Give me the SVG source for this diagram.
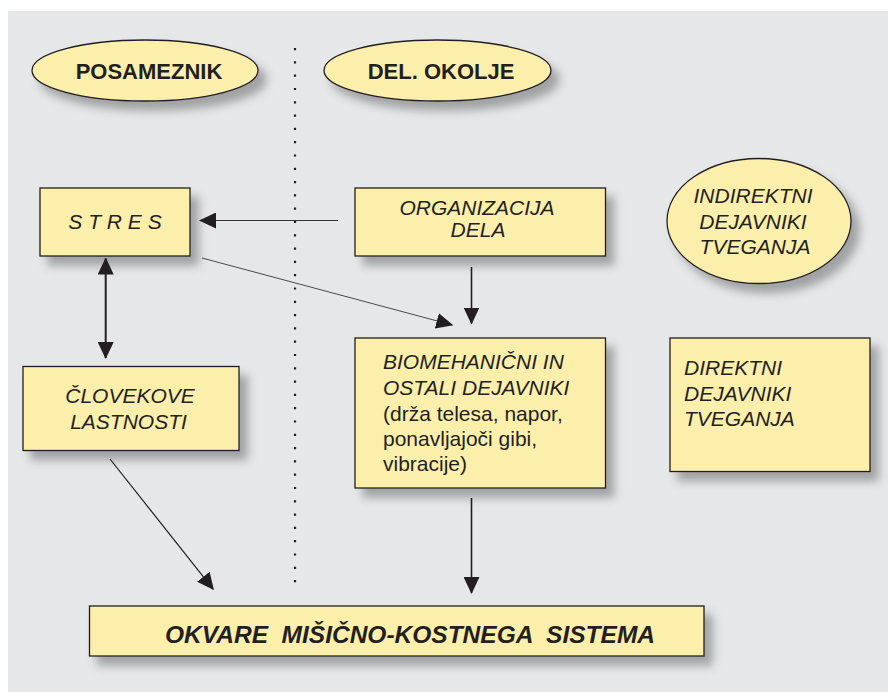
<svg xmlns="http://www.w3.org/2000/svg" width="888" height="692" viewBox="0 0 888 692">
<defs>
<filter id="sh" x="-20%" y="-20%" width="150%" height="160%">
<feDropShadow dx="8" dy="9" stdDeviation="5" flood-color="#000" flood-opacity="0.3"/>
</filter>
<marker id="ah" markerUnits="userSpaceOnUse" markerWidth="17" markerHeight="16" viewBox="0 0 17 16" refX="16" refY="8" orient="auto-start-reverse">
<path d="M0,0 L17,8 L0,16 z" fill="#231f20"/>
</marker>
</defs>
<style>
.n{fill:#fcefab;stroke:#231f20;stroke-width:1.3;filter:url(#sh)}
.t{font-family:"Liberation Sans",Arial,sans-serif;font-size:21px;fill:#231f20}
.i{font-style:italic}
.b{font-weight:bold}
.c{stroke:#231f20;fill:none}
</style>
<rect x="8" y="11" width="880" height="681" fill="#e6e7e9"/>
<line x1="295" y1="48" x2="295" y2="585" stroke="#231f20" stroke-width="2.2" stroke-dasharray="2.2 11.1"/>
<g id="posameznik">
<ellipse class="n" cx="145" cy="70.5" rx="113" ry="30.5"/>
<text class="t b" x="149" y="79" font-size="22" text-anchor="middle" style="font-size:22px">POSAMEZNIK</text>
</g>
<g id="okolje">
<ellipse class="n" cx="437.5" cy="70.5" rx="113.5" ry="30.5"/>
<text class="t b" x="441" y="79" text-anchor="middle" style="font-size:22px">DEL. OKOLJE</text>
</g>
<g id="stres">
<rect class="n" x="40" y="188" width="150" height="68"/>
<text class="t i" x="115" y="229" text-anchor="middle">S T R E S</text>
</g>
<g id="organizacija">
<rect class="n" x="355" y="188" width="250.5" height="68"/>
<text class="t i" x="477" y="214.5" text-anchor="middle">ORGANIZACIJA</text>
<text class="t i" x="478" y="236.5" text-anchor="middle">DELA</text>
</g>
<g id="indirektni">
<ellipse class="n" cx="759" cy="221" rx="92" ry="62.5"/>
<text class="t i" x="753" y="202.5" text-anchor="middle">INDIREKTNI</text>
<text class="t i" x="753" y="228.5" text-anchor="middle">DEJAVNIKI</text>
<text class="t i" x="755" y="253.5" text-anchor="middle">TVEGANJA</text>
</g>
<g id="clovekove">
<rect class="n" x="23" y="366.5" width="216" height="84"/>
<text class="t i" x="130" y="402.5" text-anchor="middle">ČLOVEKOVE</text>
<text class="t i" x="128.5" y="428.5" text-anchor="middle">LASTNOSTI</text>
</g>
<g id="biomehanicni">
<rect class="n" x="355" y="338" width="250.5" height="150"/>
<text class="t i" x="383" y="369">BIOMEHANIČNI IN</text>
<text class="t i" x="383" y="395">OSTALI DEJAVNIKI</text>
<text class="t" x="383" y="420.5">(drža telesa, napor,</text>
<text class="t" x="383" y="445.5">ponavljajoči gibi,</text>
<text class="t" x="383" y="470.5">vibracije)</text>
</g>
<g id="direktni">
<rect class="n" x="670" y="338" width="200" height="133.5"/>
<text class="t i" x="684" y="375">DIREKTNI</text>
<text class="t i" x="684" y="400.5">DEJAVNIKI</text>
<text class="t i" x="684" y="426">TVEGANJA</text>
</g>
<g id="okvare">
<rect class="n" x="89.5" y="606" width="614.5" height="50"/>
<text class="t i b" x="410" y="642.5" text-anchor="middle" style="font-size:24.5px" xml:space="preserve">OKVARE  MIŠIČNO-KOSTNEGA  SISTEMA</text>
</g>
<g id="connectors">
<line class="c" x1="338" y1="220.5" x2="200" y2="220.5" stroke-width="0.9" marker-end="url(#ah)"/>
<line class="c" x1="202" y1="258" x2="452.3" y2="325" stroke-width="0.8" marker-end="url(#ah)"/>
<line class="c" x1="471.5" y1="267" x2="471.5" y2="323.5" stroke-width="1.6" marker-end="url(#ah)"/>
<line class="c" x1="105.7" y1="258.5" x2="105.7" y2="358" stroke-width="2" marker-start="url(#ah)" marker-end="url(#ah)"/>
<line class="c" x1="471.5" y1="498" x2="471.5" y2="593" stroke-width="1.6" marker-end="url(#ah)"/>
<line class="c" x1="110" y1="459" x2="213.3" y2="589.3" stroke-width="1.2" marker-end="url(#ah)"/>
</g>
</svg>
